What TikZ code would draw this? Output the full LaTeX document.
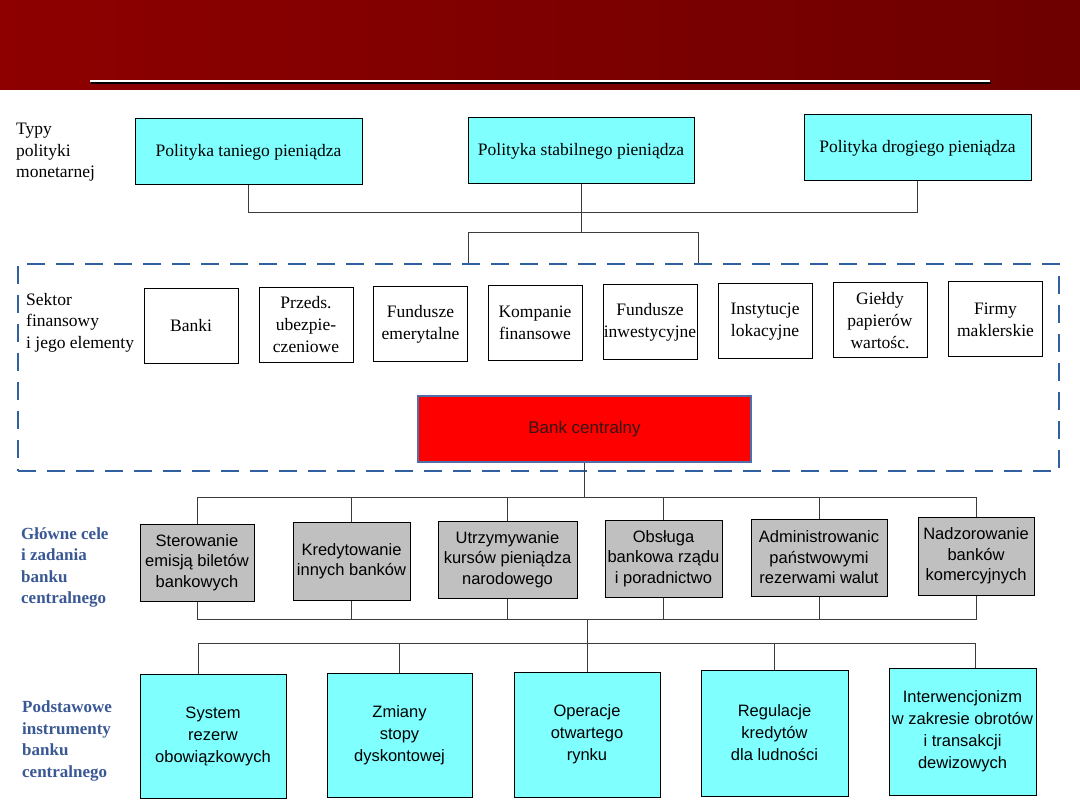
\documentclass[tikz,border=0pt]{standalone}
\usepackage{fontspec}
\setmainfont{Liberation Serif}
\setsansfont{Liberation Sans}
\definecolor{hdrL}{RGB}{142,0,0}
\definecolor{hdrR}{RGB}{110,0,0}
\definecolor{cyanc}{RGB}{128,255,255}
\definecolor{grayc}{RGB}{192,192,192}
\definecolor{dashblue}{RGB}{48,96,160}
\definecolor{lblblue}{RGB}{58,88,148}
\definecolor{cbedge}{RGB}{80,110,170}
\definecolor{cbtext}{RGB}{55,20,20}
\definecolor{connc}{RGB}{60,60,60}
\tikzset{
  topbox/.style={draw=black, line width=1pt, fill=cyanc, align=center, inner sep=0pt,
    font=\fontsize{17.5}{22}\selectfont},
  secbox/.style={draw=black, line width=1pt, fill=white, align=center, inner sep=0pt,
    minimum width=94pt, minimum height=75pt, font=\fontsize{17.5}{22}\selectfont},
  goalbox/.style={draw=black, line width=1pt, fill=grayc, align=center, inner sep=0pt,
    font=\sffamily\fontsize{16.5}{20.5}\selectfont},
  instbox/.style={draw=black, line width=1pt, fill=cyanc, align=center, inner sep=0pt,
    font=\sffamily\fontsize{16.5}{22}\selectfont},
  cbbox/.style={draw=cbedge, line width=1.3pt, fill=red, align=center, inner sep=0pt,
    text=cbtext, font=\sffamily\fontsize{17}{20}\selectfont},
  lbl/.style={anchor=north west, align=left, inner sep=0pt,
    font=\fontsize{17.5}{21.5}\selectfont},
  bluelbl/.style={anchor=north west, align=left, inner sep=0pt, text=lblblue,
    font=\bfseries\fontsize{17}{21.5}\selectfont},
  conn/.style={draw=connc, line width=1pt},
  sectorframe/.style={draw=dashblue, line width=1.8pt, dash pattern=on 18pt off 11pt,
    inner sep=0pt}
}
\begin{document}
\begin{tikzpicture}[x=1pt,y=-1pt]
\useasboundingbox (0,0) rectangle (1080,810);
% header
\shade[left color=hdrL, right color=hdrR] (0,0) rectangle (1080,90);
\draw[black, line width=2pt] (91,83.5) -- (991,83.5);
\draw[white, line width=2.6pt] (90,81) -- (990,81);

% labels
\node[lbl] (lab1) at (16,123) {Typy\\polityki\\monetarnej};
\node[lbl] (lab2) at (26,293) {Sektor\\finansowy\\i jego elementy};
\node[bluelbl] (lab3) at (21,527) {Główne cele\\i zadania\\banku\\centralnego};
\node[bluelbl] (lab4) at (22,701) {Podstawowe\\instrumenty\\banku\\centralnego};

% top boxes
\node[topbox, minimum width=227pt, minimum height=66pt] (t1) at (248.5,152) {Polityka taniego pieniądza};
\node[topbox, minimum width=226pt, minimum height=66pt] (t2) at (581,151) {Polityka stabilnego pieniądza};
\node[topbox, minimum width=227pt, minimum height=66pt] (t3) at (917.5,148) {Polityka drogiego pieniądza};

% sector frame
\node[sectorframe, minimum width=1041pt, minimum height=207pt] (sector) at (538.5,367.5) {};

% sector boxes
\node[secbox] (s1) at (191,326) {Banki};
\node[secbox] (s2) at (306,325) {Przeds.\\ubezpie-\\czeniowe};
\node[secbox] (s3) at (420.5,324) {Fundusze\\emerytalne};
\node[secbox] (s4) at (535,323) {Kompanie\\finansowe};
\node[secbox] (s5) at (650,322) {Fundusze\\inwestycyjne};
\node[secbox] (s6) at (765,321.5) {Instytucje\\lokacyjne};
\node[secbox] (s7) at (880,320.5) {Giełdy\\papierów\\wartośc.};
\node[secbox] (s8) at (995.5,319.5) {Firmy\\maklerskie};

% central bank
\node[cbbox, minimum width=333pt, minimum height=66pt] (cb) at (584.5,429) {Bank centralny};

% goal boxes
\node[goalbox, minimum width=114pt, minimum height=77pt] (g1) at (197,562.5) {Sterowanie\\emisją biletów\\bankowych};
\node[goalbox, minimum width=117pt, minimum height=78pt] (g2) at (351.5,561) {Kredytowanie\\innych banków};
\node[goalbox, minimum width=139pt, minimum height=77pt] (g3) at (507.5,559.5) {Utrzymywanie\\kursów pieniądza\\narodowego};
\node[goalbox, minimum width=117pt, minimum height=77pt] (g4) at (663.5,558.5) {Obsługa\\bankowa rządu\\i poradnictwo};
\node[goalbox, minimum width=136pt, minimum height=77pt] (g5) at (819,557.5) {Administrowanic\\państwowymi\\rezerwami walut};
\node[goalbox, minimum width=116pt, minimum height=78pt] (g6) at (976,556) {Nadzorowanie\\banków\\komercyjnych};

% instrument boxes
\node[instbox, minimum width=146pt, minimum height=124pt] (i1) at (213,736) {System\\rezerw\\obowiązkowych};
\node[instbox, minimum width=145pt, minimum height=124pt] (i2) at (399.5,735) {Zmiany\\stopy\\dyskontowej};
\node[instbox, minimum width=146pt, minimum height=125pt] (i3) at (587,734.5) {Operacje\\otwartego\\rynku};
\node[instbox, minimum width=147pt, minimum height=126pt] (i4) at (774.5,733) {Regulacje\\kredytów\\dla ludności};
\node[instbox, minimum width=147pt, minimum height=127pt] (i5) at (962.5,731.5) {Interwencjonizm\\w zakresie obrotów\\i transakcji\\dewizowych};

% connector helper coordinates
\coordinate (h1) at (0,213);
\coordinate (b2l) at (468,233);
\coordinate (b2r) at (698,233);
\coordinate (gt) at (0,497);
\coordinate (gb) at (0,619);
\coordinate (i1c) at (198,643);
\coordinate (i5c) at (975,643);

% top connectors
\draw[conn] (t1.south) -- (t1.south |- h1) -- (t3.south |- h1) -- (t3.south);
\draw[conn] (t2.south) -- (t2.south |- b2l);
\draw[conn] (b2l |- sector.north) -- (b2l) -- (b2r) -- (b2r |- sector.north);

% central bank to goals
\draw[conn] (cb.south) -- (cb.south |- gt);
\draw[conn] (g1.north) -- (g1.north |- gt) -- (g6.north |- gt) -- (g6.north);
\foreach \g in {g2,g3,g4,g5} {\draw[conn] (\g.north) -- (\g.north |- gt);}
\draw[conn] (g1.south) -- (g1.south |- gb) -- (g6.south |- gb) -- (g6.south);
\foreach \g in {g2,g3,g4,g5} {\draw[conn] (\g.south) -- (\g.south |- gb);}

% goals to instruments
\draw[conn] (i3.north |- gb) -- (i3.north);
\draw[conn] (i1c) -- (i5c);
\draw[conn] (i1c) -- (i1c |- i1.north);
\draw[conn] (i5c) -- (i5c |- i5.north);
\draw[conn] (i2.north |- i1c) -- (i2.north);
\draw[conn] (i4.north |- i1c) -- (i4.north);
\end{tikzpicture}
\end{document}
